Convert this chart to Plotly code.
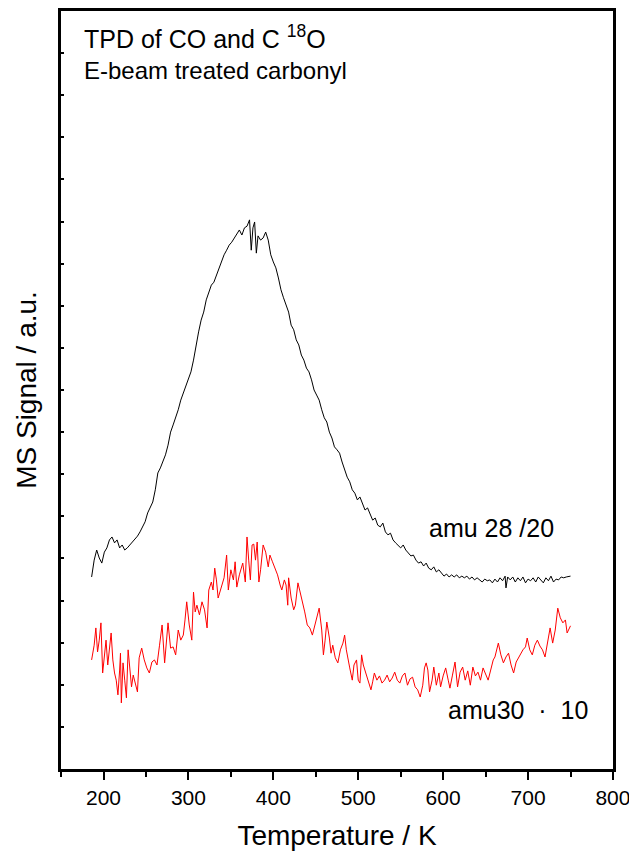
import plotly.graph_objects as go

# amu 28 /20 (black)
t28 = [186,189,192,195,198,201,204,207,210,213,216,219,222,225,228,231,234,237,240,243,246,249,252,255,258,261,264,267,270,273,276,279,282,285,288,291,294,297,300,303,306,309,312,315,318,321,324,327,330,333,336,339,342,345,348,351,354,357,360,363,366,369,372,374,376,378,380,382,385,388,391,394,397,400,403,406,409,412,415,418,421,424,427,430,433,436,439,442,445,448,451,454,457,460,463,466,469,472,475,478,481,484,487,490,493,496,499,502,505,508,511,514,517,520,523,526,529,532,535,538,541,544,547,550,553,556,559,562,565,568,571,574,577,580,583,586,589,592,595,598,601,604,607,610,613,616,619,622,625,628,631,634,637,640,643,646,649,652,655,658,661,664,667,670,673,674,676,679,682,685,688,691,694,697,700,703,706,709,712,715,718,721,724,727,730,733,736,739,742,745,748,750]
s28 = [4.56,4.96,5.20,5.01,4.89,5.15,5.25,5.44,5.51,5.37,5.44,5.25,5.32,5.20,5.25,5.32,5.39,5.44,5.53,5.63,5.75,5.87,6.08,6.20,6.34,6.63,7.03,7.15,7.29,7.46,7.69,8.00,8.17,8.34,8.53,8.76,8.93,9.12,9.29,9.43,9.71,10.07,10.38,10.66,10.85,11.14,11.30,11.49,11.56,11.73,11.90,12.04,12.21,12.32,12.44,12.51,12.61,12.73,12.80,12.68,12.85,12.89,13.04,12.32,12.85,12.99,12.25,12.66,12.56,12.61,12.75,12.56,12.21,12.04,11.90,11.66,11.38,11.19,11.02,10.85,10.54,10.43,10.19,10.07,9.83,9.71,9.52,9.43,9.24,9.00,8.88,8.76,8.53,8.34,8.24,8.00,7.86,7.65,7.58,7.50,7.29,7.10,6.93,6.82,6.63,6.55,6.39,6.46,6.32,6.15,6.20,6.03,5.91,5.96,5.79,5.75,5.84,5.63,5.56,5.60,5.44,5.37,5.32,5.25,5.32,5.20,5.13,5.06,5.08,4.96,4.89,4.92,4.82,4.89,4.77,4.73,4.80,4.68,4.73,4.65,4.58,4.63,4.56,4.61,4.56,4.61,4.54,4.58,4.54,4.58,4.51,4.56,4.49,4.54,4.49,4.44,4.51,4.47,4.49,4.42,4.51,4.44,4.54,4.47,4.58,4.30,4.56,4.49,4.56,4.44,4.54,4.47,4.56,4.42,4.51,4.47,4.54,4.44,4.56,4.49,4.42,4.54,4.47,4.58,4.44,4.51,4.49,4.56,4.54,4.56,4.58,4.58]

# amu30 x 10 (red)
t30 = [186,189,191,193,195,197,199,201,203,205,207,209,211,213,215,217,219,220,221,223,225,227,229,231,233,235,237,240,242,245,248,251,254,257,260,263,266,269,272,274,276,279,282,285,288,291,294,296,298,301,304,306,308,310,313,316,319,322,324,327,329,331,333,335,337,339,342,345,347,350,353,355,357,360,362,364,367,369,371,373,375,377,379,381,383,385,388,391,394,396,399,402,405,408,410,413,415,417,418,421,424,426,429,431,434,437,440,443,446,449,452,454,457,459,461,463,466,468,470,473,476,479,482,484,486,488,490,493,495,498,500,502,504,506,509,512,515,517,519,522,525,528,531,534,537,540,543,546,549,552,555,558,561,564,567,570,573,576,578,580,582,584,587,589,592,595,597,600,603,606,608,611,614,617,620,623,626,629,632,635,638,641,644,647,650,653,656,659,661,663,665,668,671,674,677,680,683,686,689,692,694,697,699,702,705,708,711,714,717,720,723,726,729,732,735,738,741,744,746,748,750]
s30 = [2.59,2.94,3.35,2.78,3.06,3.47,2.28,2.71,3.06,2.47,2.87,3.23,2.59,2.28,2.11,1.76,2.35,2.75,1.57,2.52,2.11,1.69,2.83,2.35,1.95,2.23,2.07,1.83,2.64,2.87,2.59,2.40,2.28,2.54,2.59,2.47,2.94,3.42,2.52,3.06,3.47,2.87,2.90,2.71,3.30,3.06,3.18,3.54,3.97,3.42,3.06,4.20,3.73,3.89,3.66,3.97,3.78,3.35,4.25,4.44,4.25,4.77,4.49,4.06,4.20,4.37,4.54,5.08,4.25,4.73,4.49,4.92,4.32,4.61,4.73,4.89,4.44,5.51,4.96,4.49,5.32,5.34,4.96,5.39,4.44,4.73,5.32,5.15,4.80,5.08,4.92,4.77,4.61,4.37,4.25,4.49,4.37,3.89,4.54,4.06,3.78,3.89,4.42,4.25,4.01,3.73,3.42,3.35,3.18,3.42,3.66,3.82,3.30,2.71,3.06,3.49,3.11,2.75,2.94,2.64,2.52,2.83,2.99,3.18,2.83,2.59,2.40,2.11,2.47,2.59,2.11,2.04,2.71,2.47,2.28,2.11,1.88,2.07,2.28,2.11,2.21,2.04,2.11,2.23,2.07,2.16,2.30,2.11,2.04,2.21,2.28,1.99,2.14,2.18,1.95,1.88,1.71,1.99,2.40,2.52,2.35,1.83,2.11,2.42,1.99,2.28,1.95,2.21,2.40,2.11,1.92,2.23,2.54,1.95,2.30,2.42,2.11,2.33,1.99,2.42,2.21,2.30,2.11,2.40,2.23,2.11,2.35,2.59,2.66,2.87,2.99,2.71,2.52,2.66,2.75,2.47,2.28,2.54,2.66,2.78,2.83,2.90,3.11,2.83,2.71,2.94,3.06,2.92,2.83,2.66,3.06,3.35,2.99,3.30,3.82,3.59,3.47,3.54,3.23,3.30,3.40]

x_ticks = [200, 300, 400, 500, 600, 700, 800]
x_tick_labels = ["200", "300", "400", "500", "600", "700", "800"]

FONT = "Liberation Sans, Arial, sans-serif"

fig = go.Figure()
fig.add_trace(go.Scatter(x=t28, y=s28, mode="lines",
                         line=dict(color="black", width=1), showlegend=False))
fig.add_trace(go.Scatter(x=t30, y=s30, mode="lines",
                         line=dict(color="red", width=1), showlegend=False))

fig.update_layout(
    width=629, height=854,
    margin=dict(l=61, r=16, t=11, b=85, autoexpand=False),
    paper_bgcolor="white", plot_bgcolor="white",
    font=dict(family=FONT, color="black"),
    xaxis=dict(
        range=[149.95, 800.05], tickvals=x_ticks, ticktext=x_tick_labels,
        ticks="outside", ticklen=8, tickwidth=2, tickcolor="black",
        ticklabeloverflow="allow", automargin=False,
        minor=dict(tickvals=[150, 250, 350, 450, 550, 650, 750], ticks="outside",
                   ticklen=5, tickwidth=2, tickcolor="black"),
        showline=True, linewidth=2.5, linecolor="black", mirror=True,
        showgrid=False, zeroline=False,
        tickfont=dict(size=21, family=FONT),
        title=dict(text="Temperature / K", font=dict(size=28, family=FONT), standoff=18),
    ),
    yaxis=dict(
        range=[0, 18], dtick=1, tick0=0,
        ticks="inside", ticklen=3, tickwidth=2, tickcolor="black",
        showticklabels=False, automargin=False,
        showline=True, linewidth=2.5, linecolor="black", mirror=True,
        showgrid=False, zeroline=False,
        title=dict(text="MS Signal / a.u.", font=dict(size=28, family=FONT), standoff=14),
    ),
    annotations=[
        dict(text="TPD of CO and C <sup>18</sup>O", xref="paper", yref="paper",
             x=0.038, y=0.966, xanchor="left", yanchor="middle", showarrow=False,
             font=dict(size=25, family=FONT)),
        dict(text="E-beam treated carbonyl", xref="paper", yref="paper",
             x=0.038, y=0.922, xanchor="left", yanchor="middle", showarrow=False,
             font=dict(size=24, family=FONT)),
        dict(text="amu 28 /20", xref="paper", yref="paper",
             x=0.779, y=0.318, xanchor="center", yanchor="middle", showarrow=False,
             font=dict(size=25, family=FONT)),
        dict(text="amu30  ·  10", xref="paper", yref="paper",
             x=0.828, y=0.078, xanchor="center", yanchor="middle", showarrow=False,
             font=dict(size=25, family=FONT)),
    ],
)

fig.write_html("out.html")
